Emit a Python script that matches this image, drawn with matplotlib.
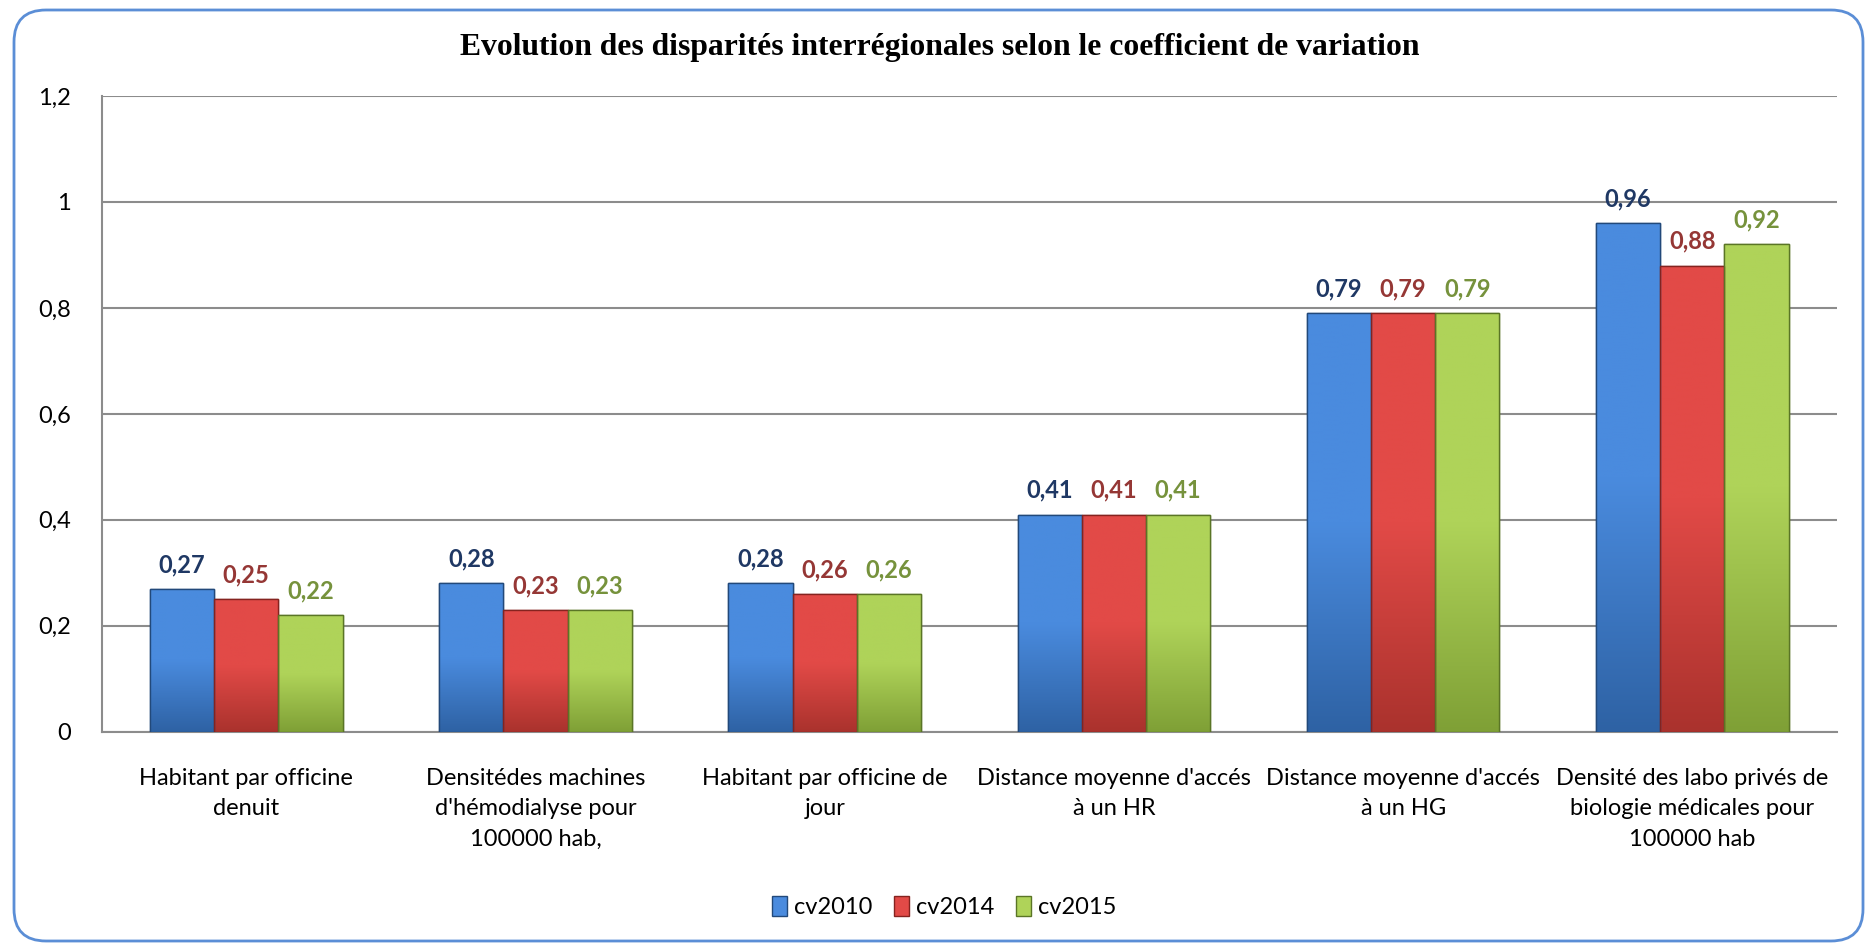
import numpy as np
import matplotlib
matplotlib.use("Agg")
import matplotlib.pyplot as plt
from matplotlib.patches import FancyBboxPatch, Patch
from matplotlib.colors import LinearSegmentedColormap
from matplotlib.transforms import IdentityTransform

categories = [
    "Habitant par officine\ndenuit",
    "Densitédes machines\nd'hémodialyse pour\n100000 hab,",
    "Habitant par officine de\njour",
    "Distance moyenne d'accés\nà un HR",
    "Distance moyenne d'accés\nà un HG",
    "Densité des labo privés de\nbiologie médicales pour\n100000 hab",
]
series_names = ["cv2010", "cv2014", "cv2015"]
cv2010 = [0.27, 0.28, 0.28, 0.41, 0.79, 0.96]
cv2014 = [0.25, 0.23, 0.26, 0.41, 0.79, 0.88]
cv2015 = [0.22, 0.23, 0.26, 0.41, 0.79, 0.92]
yticks = [0, 0.2, 0.4, 0.6, 0.8, 1.0, 1.2]
ytick_labels = ["0", "0,2", "0,4", "0,6", "0,8", "1", "1,2"]
title = "Evolution des disparités interrégionales selon le coefficient de variation"

fills = [("#4A8BDE", "#2E62A4"), ("#E24A47", "#AA322D"), ("#AFD359", "#7FA036")]
edges = ["#22497A", "#85231F", "#5A7526"]
label_colors = ["#1F3864", "#953735", "#76923C"]

W, H, DPI = 1870, 943, 100
fig = plt.figure(figsize=(W / DPI, H / DPI), dpi=DPI)
fig.patch.set_facecolor("white")

left, right, bottom, top = 101.7, 1837, 731.7, 96
ax = fig.add_axes([left / W, 1 - bottom / H, (right - left) / W, (bottom - top) / H])

x = np.arange(len(categories))
bw = 0.222
all_series = [cv2010, cv2014, cv2015]
ax.set_xlim(-0.5, len(categories) - 0.5)
ax.set_ylim(0, 1.2)

for i, (vals, name) in enumerate(zip(all_series, series_names)):
    pos = x + (i - 1) * bw
    bars = ax.bar(pos, vals, width=bw, color=fills[i][0], edgecolor=edges[i],
                  linewidth=1.0, zorder=3, label=name)
    cmap = LinearSegmentedColormap.from_list("g%d" % i, [fills[i][1], fills[i][0], fills[i][0]])
    grad = np.linspace(0, 1, 256).reshape(-1, 1)
    for b in bars:
        bx, by = b.get_x(), b.get_y()
        bwid, bh = b.get_width(), b.get_height()
        im = ax.imshow(grad, cmap=cmap, origin="lower", aspect="auto",
                       extent=[bx, bx + bwid, by, by + bh], zorder=3.5,
                       interpolation="bilinear")
        im.set_clip_path(b)
        ax.add_patch(plt.Rectangle((bx, by), bwid, bh, fill=False,
                                   edgecolor=edges[i], linewidth=1.0, zorder=4))
    for p, v in zip(pos, vals):
        ax.annotate(("%.2f" % v).replace(".", ","), (p, v), xytext=(0, 12),
                    textcoords="offset points", ha="center", va="baseline",
                    fontsize=17, fontweight="bold", color=label_colors[i],
                    family="Lato", zorder=5)

ax.set_yticks(yticks)
ax.set_yticklabels(ytick_labels, family="Lato", fontsize=17)
ax.set_xticks(x)
ax.set_xticklabels(categories, family="Lato", fontsize=17, linespacing=1.56,
                   va="top")
ax.tick_params(axis="y", length=0, pad=22)
ax.tick_params(axis="x", length=0, pad=26)
ax.yaxis.grid(True, color="#8C8C8C", linewidth=1.5, zorder=0)
ax.set_axisbelow(True)
for s in ["top", "right"]:
    ax.spines[s].set_visible(False)
for s in ["left", "bottom"]:
    ax.spines[s].set_color("#8C8C8C")
    ax.spines[s].set_linewidth(1.5)

fig.text(940 / W, 1 - 48 / H, title, ha="center", va="center",
         fontsize=22.8, fontweight="bold", family="Liberation Serif")

handles = [Patch(facecolor=fills[i][0], edgecolor=edges[i]) for i in range(3)]
fig.legend(handles, series_names, loc="center", bbox_to_anchor=(944 / W, 1 - 907 / H),
           ncol=3, frameon=False, prop={"family": "Lato", "size": 17},
           handlelength=0.65, handleheight=0.9, handletextpad=0.3, columnspacing=0.9)

frame = FancyBboxPatch((14, H - 941), 1863 - 14, 941 - 10,
                       boxstyle="round,pad=0,rounding_size=32",
                       transform=IdentityTransform(), facecolor="none",
                       edgecolor="#5B8ED6", linewidth=2.0, zorder=10)
fig.patches.append(frame)

fig.savefig("out.png", dpi=DPI)
